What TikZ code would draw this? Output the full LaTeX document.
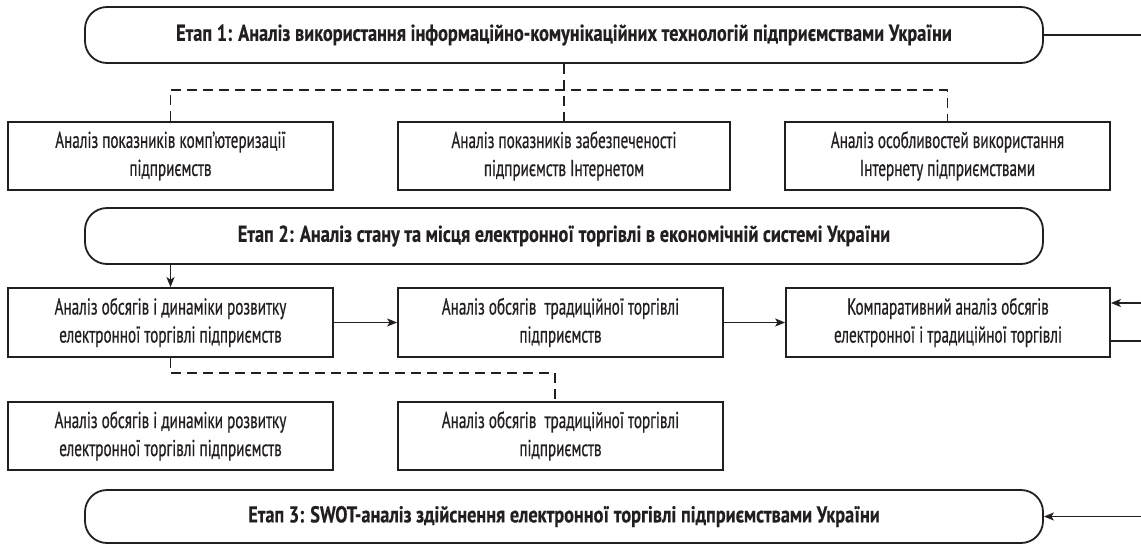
\documentclass[tikz,border=0pt]{standalone}
\usepackage{fontspec}
\setmainfont{PT Sans}[FakeStretch=0.66, FakeBold=0.6]
\newfontfamily\stagefont{PT Sans Bold}[FakeStretch=0.795, FakeBold=0.4]
\usetikzlibrary{arrows.meta}
\definecolor{ink}{HTML}{231F20}
\tikzset{
  stagebox/.style={draw=ink, line width=1.8pt, rounded corners=22pt, minimum width=958pt, inner sep=0pt, font=\fontsize{23}{28}\stagefont, text=ink},
  textbox/.style={draw=ink, line width=1.8pt, inner sep=0pt, align=center, font=\fontsize{23}{28}\selectfont, text=ink},
  conn/.style={draw=ink, line width=1.3pt},
  arr/.style={conn, -{Stealth[length=10pt,width=8pt,inset=2.5pt]}},
  dconn/.style={conn, dash pattern=on 10pt off 6pt}
}
\begin{document}
\begin{tikzpicture}[x=1pt,y=-1pt]
\useasboundingbox (0,0) rectangle (1141,544);
% stage boxes
\node[stagebox, minimum height=56pt] (s1) at (564,35) {Етап 1: Аналіз використання інформаційно-комунікаційних технологій підприємствами України};
\node[stagebox, minimum height=56pt] (s2) at (564,236) {Етап 2: Аналіз стану та місця електронної торгівлі в економічній системі України};
\node[stagebox, minimum height=53pt] (s3) at (564,516.5) {Етап 3: SWOT-аналіз здійснення електронної торгівлі підприємствами України};
% row 1
\node[textbox, minimum width=325pt, minimum height=68pt] (b1) at (170.5,156) {Аналіз показників комп’ютеризації\\підприємств};
\node[textbox, minimum width=332pt, minimum height=68pt] (b2) at (564,156) {Аналіз показників забезпеченості\\підприємств Інтернетом};
\node[textbox, minimum width=325pt, minimum height=68pt] (b3) at (947.5,156) {Аналіз особливостей використання\\Інтернету підприємствами};
% row 2
\node[textbox, minimum width=325pt, minimum height=69pt] (b4) at (170.5,322.5) {Аналіз обсягів і динаміки розвитку\\електронної торгівлі підприємств};
\node[textbox, minimum width=325pt, minimum height=69pt] (b5) at (560.5,322.5) {Аналіз обсягів\ \ традиційної торгівлі\\підприємств};
\node[textbox, minimum width=324pt, minimum height=69pt] (b6) at (948,322.5) {Компаративний аналіз обсягів\\електронної і традиційної торгівлі};
% row 3
\node[textbox, minimum width=325pt, minimum height=68pt] (b7) at (170.5,436) {Аналіз обсягів і динаміки розвитку\\електронної торгівлі підприємств};
\node[textbox, minimum width=325pt, minimum height=68pt] (b8) at (560.5,436) {Аналіз обсягів\ \ традиційної торгівлі\\підприємств};
% helper coordinates
\coordinate (d1) at (564,90);
\coordinate (d2) at (555,373);
\coordinate (r1) at (1141,35);
\coordinate (r2) at (1141,303);
\coordinate (r3) at (1141,341);
\coordinate (r4) at (1141,516.5);
% dashed connectors
\draw[dconn] (s1.south) -- (b2.north);
\draw[dconn] (b1.north) -- (b1.north |- d1) -- (b3.north |- d1) -- (b3.north);
\draw[dconn] (b4.south) -- (b4.south |- d2) -- (d2) -- (d2 |- b8.north);
% solid connectors
\draw[arr] (b4.north |- s2.south) -- (b4.north);
\draw[arr] (b4.east) -- (b5.west);
\draw[arr] (b5.east) -- (b6.west);
\draw[conn] (s1.east) -- (r1);
\draw[arr] (r2) -- (b6.east |- r2);
\draw[conn] (b6.east |- r3) -- (r3);
\draw[arr] (r4) -- (s3.east);
\end{tikzpicture}
\end{document}
